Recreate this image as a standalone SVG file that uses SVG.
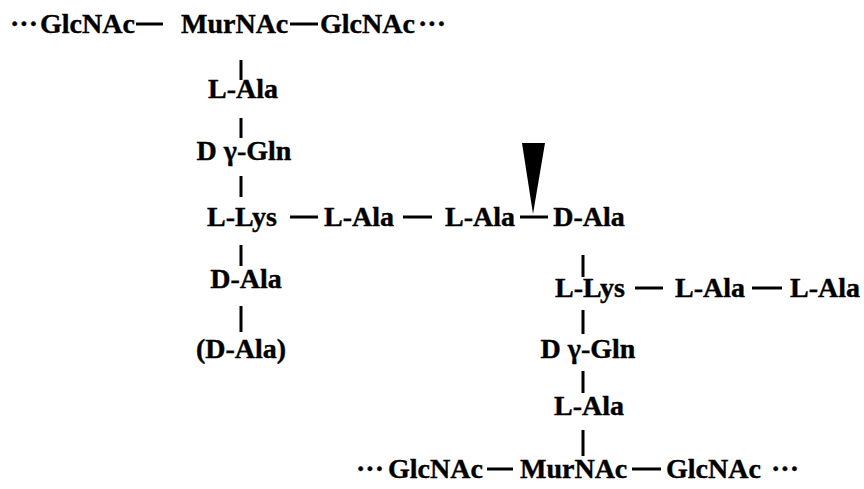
<svg xmlns="http://www.w3.org/2000/svg" width="864" height="489" viewBox="0 0 864 489">
<style>
text{font-family:'Liberation Serif','Times New Roman',serif;font-weight:700;font-size:28px;fill:#000;stroke:#000;stroke-width:0.4}
.c{stroke:#000;stroke-width:3;fill:none}
</style>
<rect width="864" height="489" fill="#fff"/>
<g id="glycan-top">
<text x="10" y="33">···</text>
<text id="glcnac-1" x="40" y="33">GlcNAc</text>
<text id="murnac-1" x="181" y="33">MurNAc</text>
<text id="glcnac-2" x="320" y="33">GlcNAc</text>
<text x="418" y="33">···</text>
</g>
<g id="stem-left">
<text id="l-ala-1" x="243" y="98" text-anchor="middle">L-Ala</text>
<text id="d-gln-1" x="244" y="160" text-anchor="middle">D γ-Gln</text>
<text id="l-lys-1" x="242" y="226" text-anchor="middle">L-Lys</text>
<text id="d-ala-1" x="246" y="288" text-anchor="middle">D-Ala</text>
<text id="d-ala-2" x="241" y="358" text-anchor="middle">(D-Ala)</text>
</g>
<g id="bridge">
<text id="l-ala-2" x="359" y="226" text-anchor="middle">L-Ala</text>
<text id="l-ala-3" x="480" y="226" text-anchor="middle">L-Ala</text>
</g>
<g id="stem-right">
<text id="d-ala-3" x="589" y="226" text-anchor="middle">D-Ala</text>
<text id="l-lys-2" x="590" y="297" text-anchor="middle">L-Lys</text>
<text id="l-ala-4" x="710" y="297" text-anchor="middle">L-Ala</text>
<text id="l-ala-5" x="825" y="297" text-anchor="middle">L-Ala</text>
<text id="d-gln-2" x="588" y="358" text-anchor="middle">D γ-Gln</text>
<text id="l-ala-6" x="589" y="415" text-anchor="middle">L-Ala</text>
</g>
<g id="glycan-bottom">
<text x="356" y="478">···</text>
<text id="glcnac-3" x="388" y="478">GlcNAc</text>
<text id="murnac-2" x="520" y="478">MurNAc</text>
<text id="glcnac-4" x="666" y="478">GlcNAc</text>
<text x="771" y="478">···</text>
</g>
<g id="cleavage-site">
<polygon points="522,143 545,143 533,214" fill="#000"/>
</g>
<g id="connectors" class="c">
<line x1="136" y1="24" x2="163" y2="24"/>
<line x1="290" y1="24" x2="318" y2="24"/>
<line x1="241" y1="60" x2="241" y2="80"/>
<line x1="241" y1="118" x2="241" y2="138"/>
<line x1="241" y1="176" x2="241" y2="197"/>
<line x1="241" y1="245" x2="241" y2="266"/>
<line x1="241" y1="306" x2="241" y2="332"/>
<line x1="290" y1="217" x2="318" y2="217"/>
<line x1="403" y1="217" x2="432" y2="217"/>
<line x1="520" y1="217" x2="548" y2="217"/>
<line x1="583" y1="255" x2="583" y2="277"/>
<line x1="635" y1="288" x2="663" y2="288"/>
<line x1="752" y1="288" x2="782" y2="288"/>
<line x1="583" y1="310" x2="583" y2="334"/>
<line x1="583" y1="371" x2="583" y2="393"/>
<line x1="583" y1="430" x2="583" y2="456"/>
<line x1="487" y1="469" x2="513" y2="469"/>
<line x1="632" y1="469" x2="661" y2="469"/>
</g>
</svg>
